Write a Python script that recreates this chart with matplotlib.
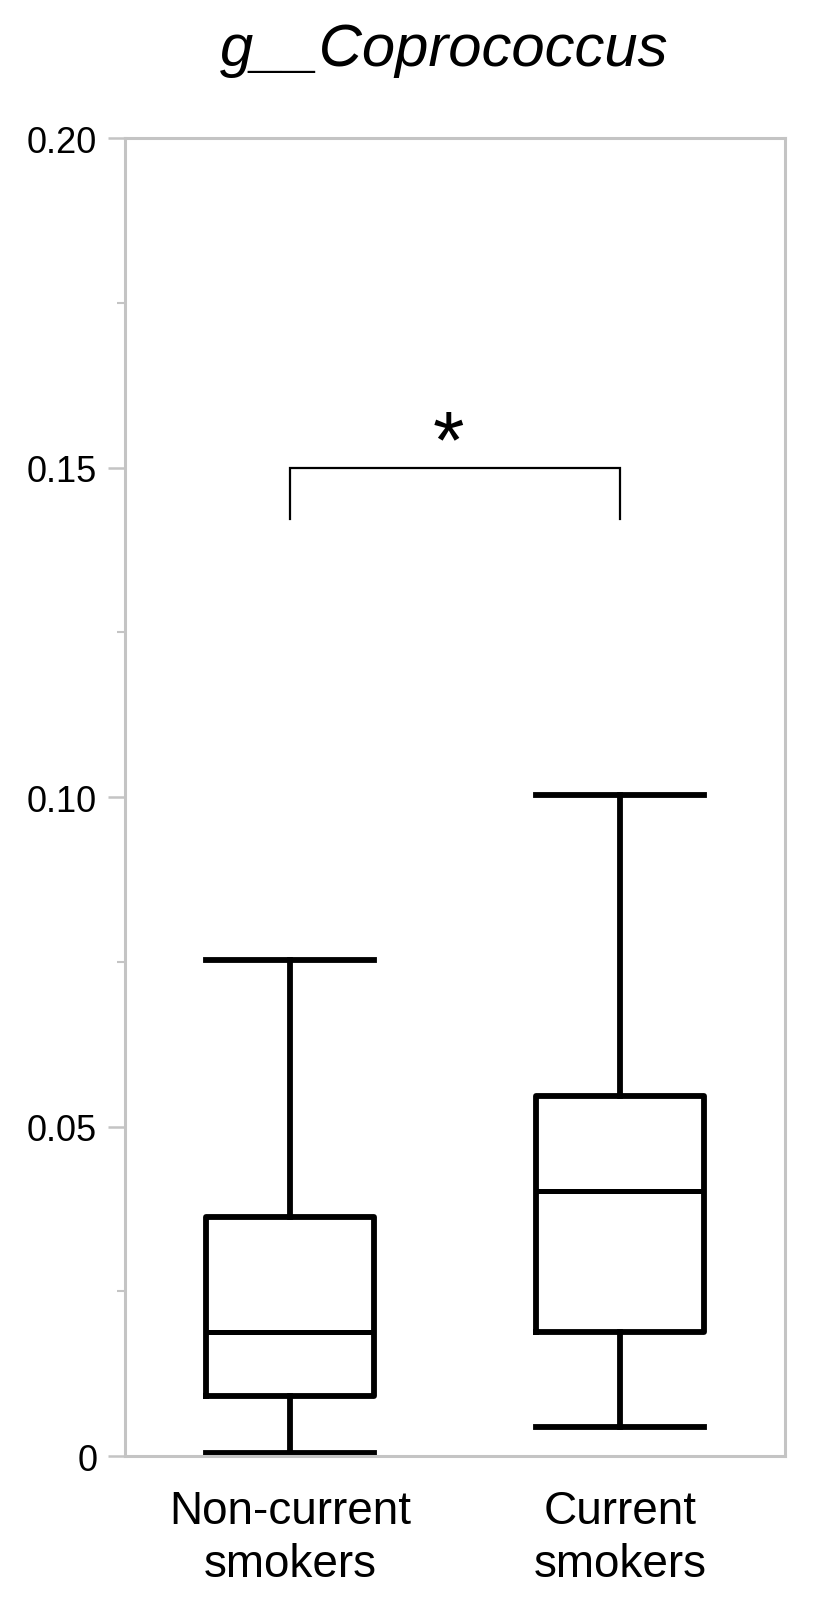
import matplotlib
matplotlib.use("Agg")
import matplotlib.pyplot as plt
from matplotlib.ticker import MultipleLocator, FuncFormatter

plt.rcParams["font.family"] = ["Liberation Sans", "DejaVu Sans"]

groups = ["Non-current\nsmokers", "Current\nsmokers"]
whis_low = [0.0005, 0.0044]
q1 = [0.0091, 0.0188]
medians = [0.0188, 0.0402]
q3 = [0.0363, 0.0546]
whis_high = [0.0753, 0.1003]
bracket_y = 0.15
bracket_leg = 0.1422
star_label = "*"

stats = []
for i, name in enumerate(groups):
    stats.append({
        "label": name,
        "whislo": whis_low[i],
        "q1": q1[i],
        "med": medians[i],
        "q3": q3[i],
        "whishi": whis_high[i],
        "fliers": [],
    })

fig = plt.figure(figsize=(8.18, 16.15), dpi=100)
ax = fig.add_axes([0.1528, 0.0978, 0.8069, 0.8161])

line = dict(color="black", linewidth=4.2)
ax.bxp(stats, positions=[1, 2], widths=0.51, showfliers=False,
       boxprops=line, whiskerprops=line, capprops=line,
       medianprops=dict(color="black", linewidth=3.6),
       capwidths=0.51)

ax.set_xlim(0.5, 2.5)
ax.set_ylim(0, 0.20)

ax.yaxis.set_major_locator(MultipleLocator(0.05))
ax.yaxis.set_minor_locator(MultipleLocator(0.025))
ax.yaxis.set_major_formatter(FuncFormatter(lambda v, p: "0" if v == 0 else f"{v:.2f}"))

for side in ax.spines.values():
    side.set_color("#c4c4c4")
    side.set_linewidth(2.2)

ax.tick_params(axis="y", which="major", length=12, width=1.8, color="#c4c4c4",
               labelsize=26, pad=8, labelcolor="black")
ax.tick_params(axis="y", which="minor", length=6, width=1.5, color="#c4c4c4")
ax.tick_params(axis="x", length=0, labelsize=33, pad=24)
for lab in ax.get_xticklabels():
    lab.set_linespacing(1.25)

# significance bracket
ax.plot([1, 1, 2, 2], [bracket_leg, bracket_y, bracket_y, bracket_leg],
        color="black", linewidth=1.6, solid_joinstyle="miter")
ax.text(1.48, 0.1534, star_label, ha="center", va="center", fontsize=58)

fig.text(444 / 818, 1 - 50 / 1615, "g__Coprococcus", ha="center", va="center",
         fontsize=43, style="italic")

fig.savefig("out.png", dpi=100)
